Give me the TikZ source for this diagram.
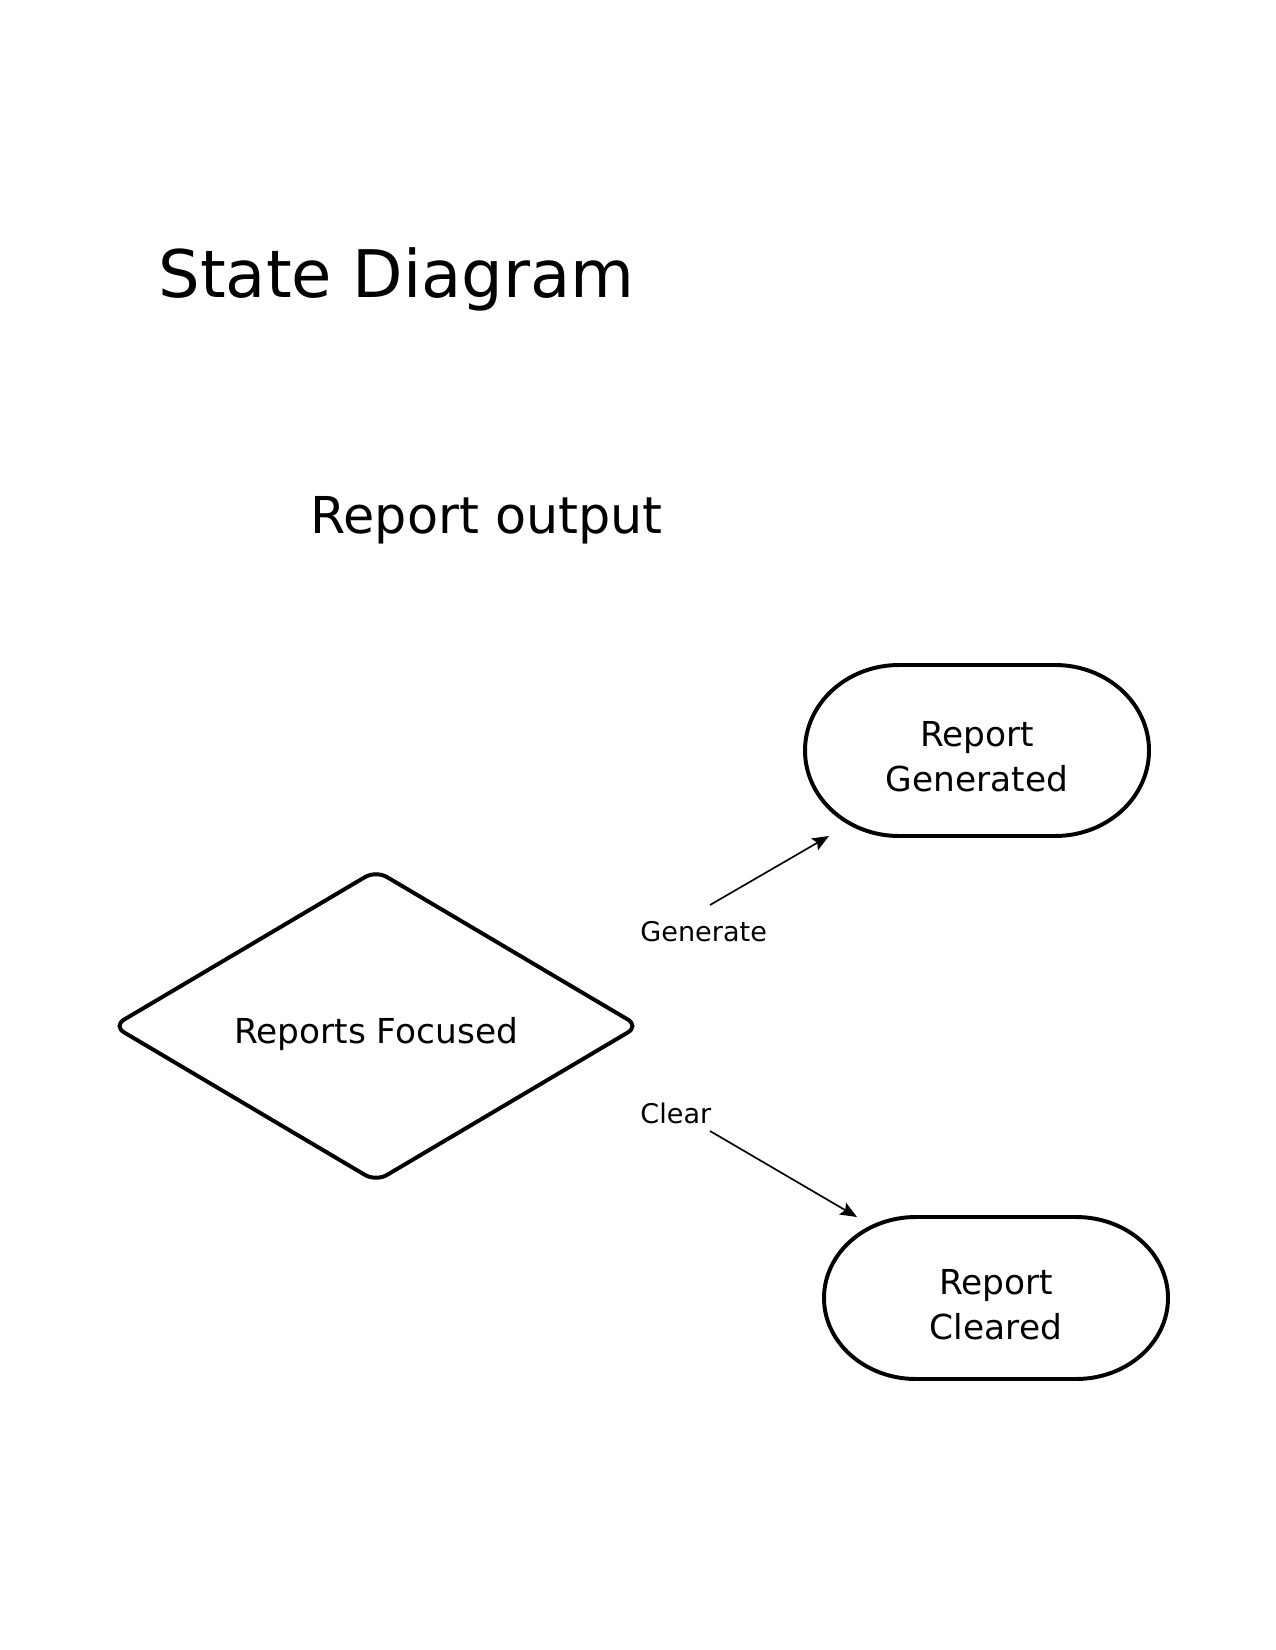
\documentclass[tikz,border=0pt]{standalone}
\usepackage{fontspec}
\setmainfont{DejaVu Sans}
\usetikzlibrary{shapes.geometric,arrows.meta}
\tikzset{
  stbox/.style={draw=black,line width=1.9pt},
  nodetext/.style={align=center,font=\fontsize{16.5}{21.6}\selectfont,inner sep=0pt},
  evlabel/.style={anchor=base west,inner sep=0pt,font=\fontsize{13}{15}\selectfont},
  evarrow/.style={line width=0.8pt,-{Stealth[length=8pt,width=6.5pt,inset=1.5pt]}},
}
\begin{document}
\begin{tikzpicture}[x=0.48pt,y=0.48pt]
\path[use as bounding box,fill=white] (0,0) rectangle (1275,-1650);

\node[anchor=base west,inner sep=0pt,font=\fontsize{31.5}{38}\selectfont] (title) at (158,-298) {State Diagram};
\node[anchor=base west,inner sep=0pt,font=\fontsize{24.4}{30}\selectfont] (subtitle) at (310,-533) {Report output};

% Reports Focused (diamond)
\node[stbox,shape=diamond,rounded corners=6pt,minimum width=253pt,minimum height=150pt,inner sep=0pt] (focused) at (376,-1026) {};
\node[nodetext] (focusedtext) at (376,-1034) {Reports Focused};

% Report Generated
\draw[stbox] (899,-665) -- (1055,-665)
  arc[start angle=90,end angle=-90,x radius=94,y radius=85.5]
  -- (899,-836)
  arc[start angle=270,end angle=90,x radius=94,y radius=85.5] -- cycle;
\node[nodetext] (generated) at (977,-757) {Report\\Generated};

% Report Cleared
\draw[stbox] (916,-1217) -- (1076,-1217)
  arc[start angle=90,end angle=-90,x radius=92,y radius=81]
  -- (916,-1379)
  arc[start angle=270,end angle=90,x radius=92,y radius=81] -- cycle;
\node[nodetext] (cleared) at (996,-1305) {Report\\Cleared};

% Transitions
\node[evlabel] (genlab) at (640,-941) {Generate};
\node[evlabel] (clrlab) at (640,-1123) {Clear};
\coordinate (g1) at (710,-905);
\coordinate (g2) at (829,-836);
\coordinate (c1) at (710,-1131);
\coordinate (c2) at (857,-1217);
\draw[evarrow] (g1) -- (g2);
\draw[evarrow] (c1) -- (c2);
\end{tikzpicture}
\end{document}
